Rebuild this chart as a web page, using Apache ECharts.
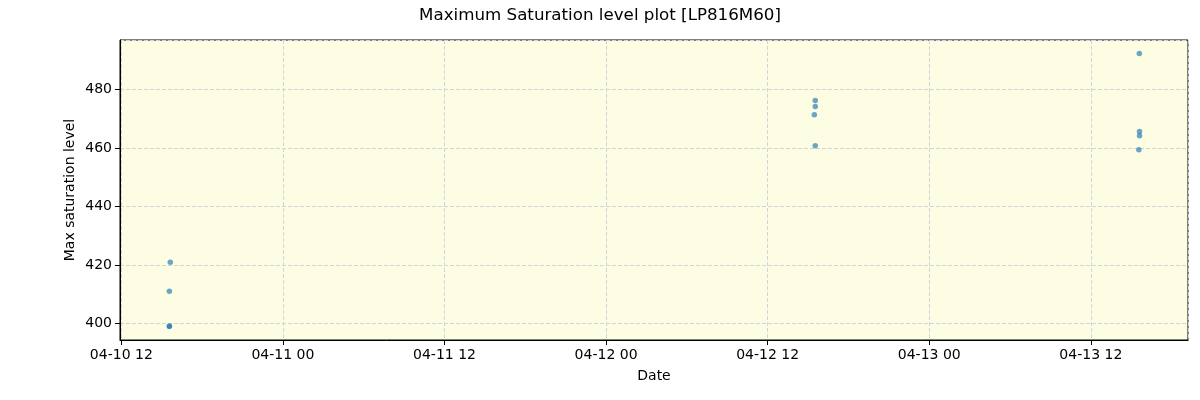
<!DOCTYPE html>
<html>
<head>
<meta charset="utf-8">
<script src="https://cdn.jsdelivr.net/npm/echarts@6/dist/echarts.min.js"></script>
<style>html,body{margin:0;padding:0;background:#fff}#c{width:1200px;height:400px}</style>
</head>
<body>
<div id="c"></div>
<script>
var titleText = 'Maximum Saturation level plot [LP816M60]';
var times = [
  '2024-04-10 15:38', '2024-04-10 15:34', '2024-04-10 15:34', '2024-04-10 15:34',
  '2024-04-12 15:32', '2024-04-12 15:32', '2024-04-12 15:28', '2024-04-12 15:32',
  '2024-04-13 15:36', '2024-04-13 15:37', '2024-04-13 15:37', '2024-04-13 15:34'
];
var values = [420.9, 411.0, 399.1, 398.9, 476.3, 474.2, 471.4, 460.8, 492.4, 465.7, 464.2, 459.4];
var xMin = '2024-04-10 11:54';
var xMax = '2024-04-13 19:13';
var yMin = 394.27;
var yMax = 497.0;

function parseT(s) {
  var p = s.split(/[- :]/).map(Number);
  return new Date(p[0], p[1] - 1, p[2], p[3], p[4]).getTime();
}
var data = times.map(function (t, i) { return [parseT(t), values[i]]; });
function pad(n) { return (n < 10 ? '0' : '') + n; }

var chart = echarts.init(document.getElementById('c'), null, {renderer: 'canvas'});
var font = 'DejaVu Sans';
chart.setOption({
  animation: false,
  backgroundColor: '#ffffff',
  textStyle: {fontFamily: font},
  title: {
    text: titleText, left: 'center', top: 2,
    textStyle: {fontFamily: font, fontSize: 16.7, fontWeight: 'normal', color: '#000'}
  },
  grid: {
    left: 120, right: 12, top: 40, bottom: 60,
    outerBoundsMode: 'none', containLabel: false,
    show: true, backgroundColor: '#fdfde3', borderColor: '#000', borderWidth: 1
  },
  xAxis: {
    type: 'time',
    min: parseT(xMin), max: parseT(xMax),
    splitNumber: 6,
    minInterval: 14 * 3600 * 1000, maxInterval: 14 * 3600 * 1000,
    name: 'Date', nameLocation: 'middle', nameGap: 29,
    nameTextStyle: {fontFamily: font, fontSize: 14, color: '#000'},
    axisLine: {show: true, onZero: false, lineStyle: {color: '#000', width: 1}},
    axisTick: {show: true, length: 5, lineStyle: {color: '#000'}},
    axisLabel: {
      fontFamily: font, fontSize: 14, color: '#000', margin: 8,
      showMinLabel: false, showMaxLabel: false,
      formatter: function (v) {
        var d = new Date(v);
        return pad(d.getMonth() + 1) + '-' + pad(d.getDate()) + ' ' + pad(d.getHours());
      }
    },
    splitLine: {show: true, lineStyle: {color: '#d3d3d8', type: [4, 2], width: 1}}
  },
  yAxis: {
    type: 'value',
    min: yMin, max: yMax,
    name: 'Max saturation level', nameLocation: 'middle', nameGap: 43,
    nameMoveOverlap: false,
    nameTextStyle: {fontFamily: font, fontSize: 14, color: '#000'},
    axisLine: {show: true, lineStyle: {color: '#000', width: 1}},
    axisTick: {show: true, length: 5, lineStyle: {color: '#000'}},
    axisLabel: {
      fontFamily: font, fontSize: 14, color: '#000', margin: 8,
      showMinLabel: false, showMaxLabel: false
    },
    splitLine: {show: true, lineStyle: {color: '#d3d3d8', type: [4, 2], width: 1}}
  },
  series: [{
    type: 'scatter',
    data: data,
    symbolSize: 5.5,
    itemStyle: {color: '#1f77b4', opacity: 0.65}
  }]
});
</script>
</body>
</html>
